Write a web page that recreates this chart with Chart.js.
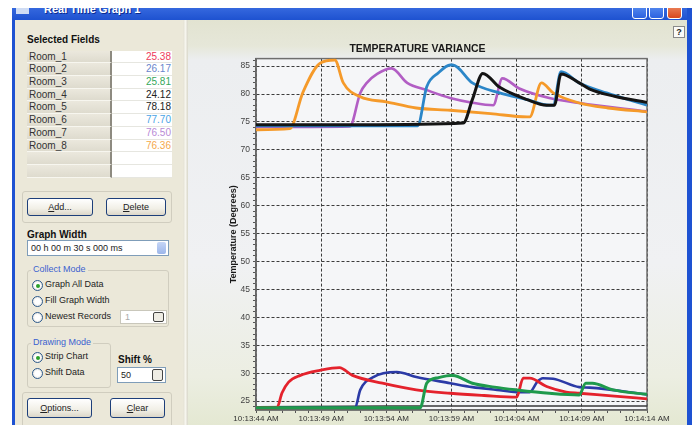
<!DOCTYPE html>
<html lang="en">
<head>
<meta charset="UTF-8">
<title>Real Time Graph 1</title>
<script src="https://cdn.jsdelivr.net/npm/chart.js"></script>
<style>
  body {
    margin: 0;
    width: 697px;
    height: 425px;
    overflow: hidden;
    position: relative;
    background: #fff;
    font-family: 'Liberation Sans', Arial, sans-serif;
    color: #222;
  }
  .abs { position: absolute; }
  .titlebar {
    left: 12px; top: 8px; width: 680px; height: 13px;
    background: linear-gradient(#3568de, #1c50cf);
    overflow: hidden;
  }
  .titlebar .txt {
    position: absolute; left: 32px; top: -5px;
    color: #fff; font: bold 11px 'Liberation Sans', Arial, sans-serif;
    text-shadow: 1px 1px 0 #0a2a90;
  }
  .capbtn {
    position: absolute; top: -4px; width: 15px; height: 15px;
    border: 1px solid #fff; border-radius: 3px; box-sizing: border-box;
    background: linear-gradient(#5a8ef0, #2c62e0);
  }
  .border-l { left: 12px; top: 20px; width: 3px; height: 405px; background: #1e52d2; }
  .border-r { left: 687px; top: 8px; width: 5px; height: 417px; background: #1e52d2; }
  .leftpanel { left: 15px; top: 20px; width: 170px; height: 405px; background: #ebe8d9; }
  .sep { left: 183px; top: 20px; width: 5px; height: 405px; background: linear-gradient(to right, #e4e1d2, #f6f5ee, #d8d6c8); }
  .chartpanel {
    left: 188px; top: 20px; width: 499px; height: 405px;
    background: linear-gradient(to bottom, #e2e3d1 0, #e6e7d9 26px, #eceef0 40px, #f0f1f3 60%, #eceee2 88%, #e4e8d2 100%);
  }
  .bold { font-weight: bold; font-size: 10px; color: #111; }
  .grid { left: 27px; top: 50.6px; width: 145px; }
  .row { display: flex; height: 12.71px; line-height: 12.71px; font-size: 10px; }
  .row .name {
    width: 85px; padding-left: 2px; box-sizing: border-box;
    background: linear-gradient(#ebe8dd, #dedbce);
    border-bottom: 1px solid #f7f6ef; border-right: 2px solid #8d8a80;
    color: #333;
  }
  .row .val {
    flex: 1; text-align: right; padding-right: 1px; background: #fff;
    border-bottom: 1px solid #e6e6e0;
  }
  .groupbox { border: 1px solid #d0cdbf; border-radius: 3px; box-sizing: border-box; }
  .glabel { font-size: 9px; color: #3b62d0; background: #ebe8d9; padding: 0 2px; }
  .btn {
    border: 1px solid #1d3f7a; border-radius: 3px; box-sizing: border-box;
    background: linear-gradient(#ffffff, #f1efe6 60%, #dcd7c9);
    font-size: 9px; text-align: center; color: #222;
  }
  .spin {
    border: 1px solid #7f9db9; background: #fff; box-sizing: border-box;
    font-size: 9px; color: #222;
  }
  .spinbtn {
    position: absolute; right: 2px; top: 1px; bottom: 1px; width: 9px;
    background: linear-gradient(#c6d6f6, #9cb6ea); border-radius: 2px;
  }
  .radio { font-size: 9px; color: #222; }
  .radio i {
    position: absolute; left: 0; top: 1px; width: 9px; height: 9px;
    border: 1px solid #2c5a8c; border-radius: 50%;
    background: radial-gradient(#fff 40%, #d9d6cc);
  }
  .radio i.on::after {
    content: ''; position: absolute; left: 2.5px; top: 2.5px; width: 4px; height: 4px;
    border-radius: 50%; background: #2aa02a;
  }
  .radio span { position: absolute; left: 13px; top: 0; white-space: nowrap; }
  .help {
    left: 673px; top: 26px; width: 12px; height: 12px;
    border: 1px solid #8a8a8a; background: #fbfbf8; box-sizing: border-box;
    font: bold 9px 'Liberation Sans', Arial, sans-serif; text-align: center; line-height: 10px;
  }
  #chart { left: 188px; top: 21px; }
</style>
</head>
<body>
  <div class="abs titlebar">
    <div class="abs" style="left:4px;top:0;width:13px;height:6px;background:#cfdcf4;"></div>
    <span class="txt">Real Time Graph 1</span>
    <div class="capbtn" style="left:620px;"></div>
    <div class="capbtn" style="left:637px;"></div>
    <div class="capbtn" style="left:655px;background:linear-gradient(#ee8a62,#d8481e);"></div>
  </div>
  <div class="abs border-l"></div>
  <div class="abs leftpanel"></div>
  <div class="abs sep"></div>
  <div class="abs chartpanel"></div>
  <div class="abs border-r"></div>
  <div class="abs help">?</div>

  <div class="abs bold" style="left:27px;top:34px;">Selected Fields</div>
  <div class="abs grid" id="fieldGrid"></div>

  <div class="abs groupbox" style="left:22px;top:191px;width:150px;height:32px;"></div>
  <div class="abs btn" style="left:27px;top:198px;width:66px;height:18px;line-height:16px;"><u>A</u>dd...</div>
  <div class="abs btn" style="left:106px;top:198px;width:60px;height:18px;line-height:16px;"><u>D</u>elete</div>

  <div class="abs bold" style="left:27px;top:229px;">Graph Width</div>
  <div class="abs spin" style="left:27px;top:240px;width:142px;height:16px;line-height:14px;padding-left:3px;">00 h 00 m 30 s 000 ms<div class="spinbtn"></div></div>

  <div class="abs groupbox" style="left:27px;top:270px;width:142px;height:57px;"></div>
  <div class="abs glabel" style="left:31px;top:264px;">Collect Mode</div>
  <div class="abs radio" style="left:32px;top:279px;"><i class="on"></i><span>Graph All Data</span></div>
  <div class="abs radio" style="left:32px;top:295px;"><i></i><span>Fill Graph Width</span></div>
  <div class="abs radio" style="left:32px;top:311px;"><i></i><span>Newest Records</span></div>
  <div class="abs spin" style="left:120px;top:310px;width:47px;height:14px;line-height:12px;padding-left:4px;color:#aaa;border-color:#c9c7bb;">1<div class="spinbtn" style="background:#eeece4;border:1px solid #444;"></div></div>

  <div class="abs groupbox" style="left:27px;top:343px;width:84px;height:45px;"></div>
  <div class="abs glabel" style="left:31px;top:337px;">Drawing Mode</div>
  <div class="abs radio" style="left:32px;top:351px;"><i class="on"></i><span>Strip Chart</span></div>
  <div class="abs radio" style="left:32px;top:367px;"><i></i><span>Shift Data</span></div>
  <div class="abs bold" style="left:118px;top:354px;">Shift %</div>
  <div class="abs spin" style="left:117px;top:367px;width:49px;height:16px;line-height:14px;padding-left:3px;">50<div class="spinbtn" style="background:#eeece4;border:1px solid #444;"></div></div>

  <div class="abs groupbox" style="left:22px;top:392px;width:150px;height:40px;"></div>
  <div class="abs btn" style="left:27px;top:398px;width:65px;height:20px;line-height:18px;"><u>O</u>ptions...</div>
  <div class="abs btn" style="left:110px;top:398px;width:55px;height:20px;line-height:18px;"><u>C</u>lear</div>

  <canvas id="chart" class="abs" width="499" height="404"></canvas>

  <script>
    // field list shown in the left grid
    const roomNames = ['Room_1', 'Room_2', 'Room_3', 'Room_4', 'Room_5', 'Room_6', 'Room_7', 'Room_8'];
    const roomValues = ['25.38', '26.17', '25.81', '24.12', '78.18', '77.70', '76.50', '76.36'];
    const valueColors = ['#ee3a5a', '#6a86cc', '#36a85a', '#222', '#222', '#4aa4e6', '#b88ad6', '#f5a84a'];
    const lineColors = ['#e4222c', '#2b3aa6', '#1f9a4c', '#3a3a3a', '#141414', '#2b86c8', '#b25ec4', '#f59a2a'];

    // x axis: seconds from 10:13:44 AM
    const timeLabels = ['10:13:44 AM', '10:13:49 AM', '10:13:54 AM', '10:13:59 AM', '10:14:04 AM', '10:14:09 AM', '10:14:14 AM'];

    // [seconds, degrees]
    const room1 = [[0, 23.8], [1.6, 23.8], [2.0, 26.5], [2.5, 28.4], [3.4, 29.6], [4.9, 30.5], [6.4, 31.0], [7.4, 29.6], [9.7, 28.2], [12.3, 27.0], [14.9, 26.4], [17.5, 26.0], [20.0, 25.7], [20.5, 29.1], [21.0, 29.1], [22.3, 27.6], [23.8, 26.6], [24.8, 26.4], [27.5, 25.9], [30, 25.4]];
    const room2 = [[0, 23.8], [7.6, 23.8], [8.0, 27.0], [9.0, 29.3], [10.8, 30.2], [12.3, 29.3], [14.9, 28.2], [16.6, 27.5], [18.5, 27.0], [20.0, 26.6], [21.0, 26.6], [21.6, 28.5], [22.0, 29.1], [22.8, 29.0], [24.8, 27.5], [25.6, 27.4], [30, 26.2]];
    const room3 = [[0, 23.8], [12.6, 23.8], [13.1, 28.2], [14.0, 29.2], [14.9, 29.6], [15.1, 29.6], [16.6, 28.2], [18.3, 27.5], [20.0, 27.0], [22.5, 26.4], [24.8, 26.1], [25.3, 28.2], [25.8, 28.2], [27.4, 27.0], [30, 26.2]];
    const room4 = [[0, 24.0], [10, 24.1], [20, 24.1], [30, 24.1]];
    const room5 = [[0, 74.5], [8, 74.5], [15.9, 74.8], [16.6, 79.0], [17.4, 83.7], [18.7, 81.2], [20.8, 79.0], [22.3, 78.0], [22.9, 78.0], [23.4, 83.6], [24.8, 82.0], [25.6, 80.9], [27.5, 79.6], [30, 78.5]];
    const room6 = [[0, 74.3], [12.4, 74.3], [13.1, 81.3], [14.0, 83.8], [14.9, 85.2], [15.1, 85.2], [16.6, 82.0], [18.7, 80.2], [20.8, 79.0], [22.5, 78.0], [22.8, 78.0], [23.4, 84.0], [24.8, 82.0], [26.9, 80.2], [30, 78.0]];
    const room7 = [[0, 74.1], [7.2, 74.2], [8.0, 80.2], [8.5, 82.0], [9.3, 83.6], [10.4, 84.6], [11.6, 82.0], [13.1, 80.7], [14.9, 79.3], [16.5, 78.5], [18.2, 78.0], [18.9, 82.8], [20.2, 81.0], [22.5, 79.3], [24.8, 78.4], [30, 76.9]];
    const room8 = [[0, 73.6], [2.6, 73.8], [3.6, 80.3], [4.9, 85.5], [6.05, 86.1], [6.7, 82.0], [8.0, 79.5], [10.0, 78.6], [12.3, 77.5], [14.9, 77.1], [18.0, 76.5], [20.8, 75.9], [21.0, 75.9], [21.9, 82.0], [22.8, 80.2], [24.8, 78.4], [27.0, 77.5], [30, 76.8]];

    // left grid: 8 fields plus two empty rows
    const grid = document.getElementById('fieldGrid');
    for (let i = 0; i < 10; i++) {
      const row = document.createElement('div');
      row.className = 'row';
      row.innerHTML = '<div class="name">' + (roomNames[i] || '') + '</div>' +
        '<div class="val" style="color:' + (valueColors[i] || '#222') + '">' + (roomValues[i] || '') + '</div>';
      grid.appendChild(row);
    }

    const plotFrame = {
      id: 'plotFrame',
      beforeDraw(chart) {
        const { ctx, chartArea: a } = chart;
        ctx.save();
        ctx.fillStyle = '#f5f6f8';
        ctx.fillRect(a.left, a.top, a.right - a.left, a.bottom - a.top);
        ctx.restore();
      },
      beforeDatasetsDraw(chart) {
        const { ctx, chartArea: a } = chart;
        ctx.save();
        ctx.strokeStyle = '#6e6e6e';
        ctx.lineWidth = 1.5;
        ctx.strokeRect(a.left, a.top, a.right - a.left, a.bottom - a.top);
        ctx.restore();
      }
    };

    function line(data, i, width) {
      return {
        label: roomNames[i],
        data: data.map(([x, y]) => ({ x, y })),
        borderColor: lineColors[i],
        borderWidth: width,
        pointRadius: 0,
        cubicInterpolationMode: 'monotone'
      };
    }

    const fiveGrid = c => (c.tick && Math.round(c.tick.value) % 5 === 0) ? '#3c3c3c' : 'transparent';

    new Chart(document.getElementById('chart').getContext('2d'), {
      type: 'line',
      data: {
        datasets: [
          line(room3, 2, 3),
          line(room1, 0, 2.8),
          line(room2, 1, 2.6),
          line(room4, 3, 1.5),
          line(room5, 4, 3),
          line(room6, 5, 2.8),
          line(room8, 7, 2.8),
          line(room7, 6, 2.6)
        ]
      },
      options: {
        responsive: false,
        animation: false,
        layout: { padding: { left: 0, right: 40, top: 0, bottom: 0 } },
        plugins: {
          legend: { display: false },
          tooltip: { enabled: false },
          title: {
            display: true,
            text: 'TEMPERATURE VARIANCE',
            color: '#1a1a1a',
            font: { family: 'Liberation Sans', size: 10.5, weight: 'bold' },
            padding: { top: 22, bottom: 3 }
          }
        },
        scales: {
          x: {
            type: 'linear',
            min: 0,
            max: 30,
            afterFit: s => { s.height = 15; },
            afterBuildTicks: s => { s.ticks = Array.from({ length: 31 }, (_, i) => ({ value: i })); },
            ticks: {
              autoSkip: false,
              maxRotation: 0,
              padding: 1,
              color: '#333',
              font: { family: 'Liberation Sans', size: 8 },
              callback: v => (v % 5 === 0 ? timeLabels[v / 5] : '')
            },
            grid: { color: fiveGrid, tickColor: '#555', lineWidth: 1, tickLength: 3 },
            border: { display: true, color: '#555', width: 1.5, dash: [3, 2] }
          },
          y: {
            min: 23.4,
            max: 86.35,
            afterFit: s => { s.width = 68; },
            afterBuildTicks: s => { s.ticks = Array.from({ length: 63 }, (_, i) => ({ value: 24 + i })); },
            ticks: {
              autoSkip: false,
              padding: 3,
              color: '#444',
              font: { family: 'Liberation Sans', size: 8.5 },
              callback: v => (v % 5 === 0 ? v : '')
            },
            grid: { color: fiveGrid, tickColor: '#555', lineWidth: 1, tickLength: 3 },
            border: { display: true, color: '#555', width: 1.5, dash: [3, 2] },
            title: {
              display: true,
              text: 'Temperature (Degrees)',
              color: '#1a1a1a',
              font: { family: 'Liberation Sans', size: 9, weight: 'bold' },
              padding: { top: 40, bottom: 0 }
            }
          }
        }
      },
      plugins: [plotFrame]
    });
  </script>
</body>
</html>
